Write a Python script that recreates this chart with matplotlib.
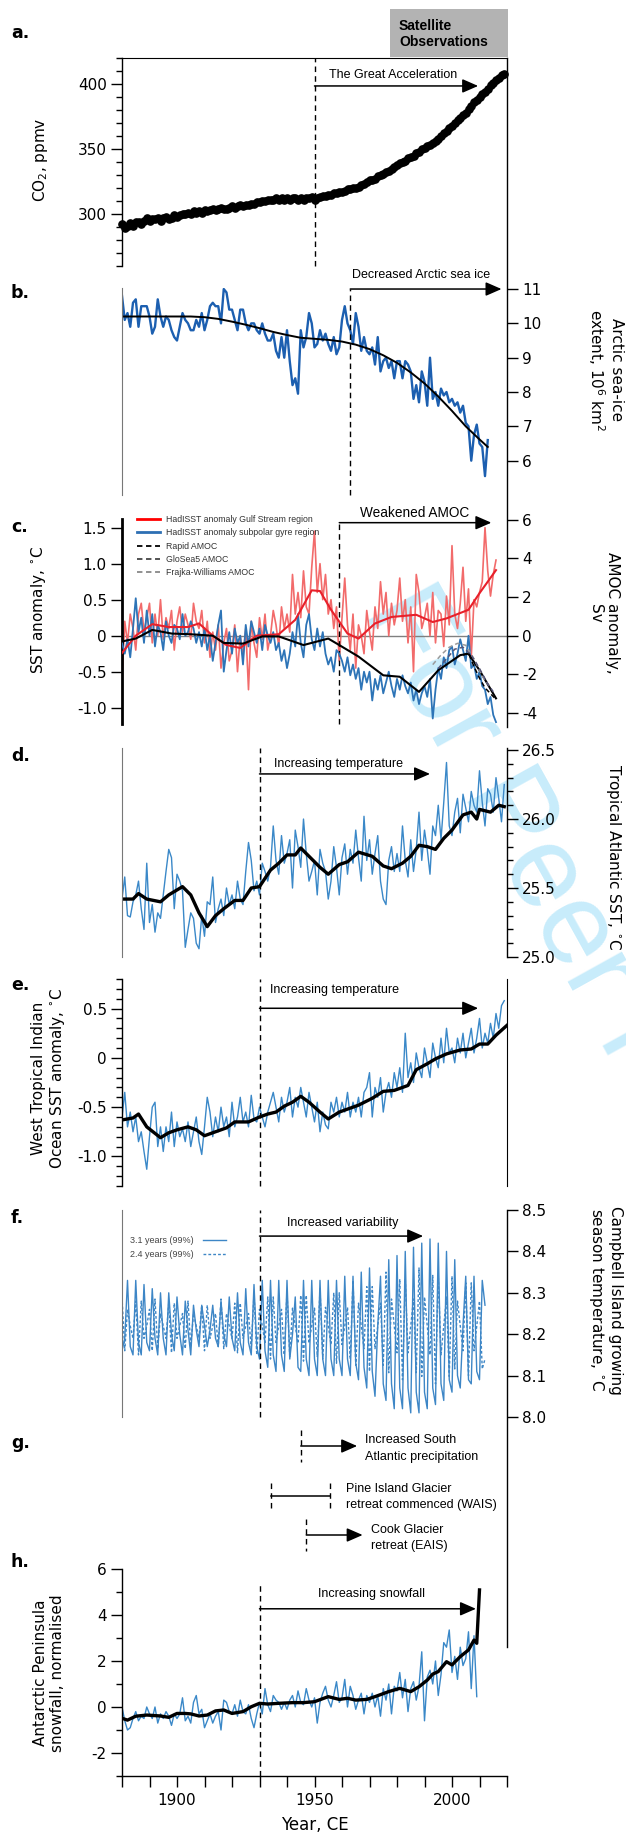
import numpy as np
import matplotlib
matplotlib.use("Agg")
import matplotlib.pyplot as plt
from matplotlib.lines import Line2D
from matplotlib.patches import Rectangle

plt.rcParams["axes.unicode_minus"] = False
plt.rcParams["font.family"] = ["DejaVu Sans"]

# ------------------------------------------------------------------ data
co2_start = 1880
co2 = [292, 289, 291, 293, 291, 294, 294, 292, 295, 297,
       295, 296, 296, 297, 295, 297, 298, 296, 297, 299,
       298, 299, 300, 300, 301, 300, 302, 301, 302, 301,
       303, 302, 303, 304, 303, 304, 305, 304, 304, 305,
       306, 305, 306, 307, 306, 307, 307, 308, 308, 309,
       309, 310, 310, 311, 311, 311, 312, 311, 312, 311,
       312, 311, 312, 312, 311, 312, 311, 312, 312, 313,
       311, 312, 313, 314, 314, 315, 315, 316, 316, 317,
       317, 318, 319, 319, 320, 320, 321, 322, 323, 325,
       326, 326, 327, 329, 330, 331, 332, 333, 335, 336,
       338, 339, 340, 341, 343, 344, 345, 347, 348, 350,
       351, 352, 353, 355, 356, 358, 360, 362, 364, 366,
       368, 370, 372, 374, 376, 378, 381, 383, 386, 388,
       390, 392, 394, 396, 399, 401, 403, 405, 407, 408]

seaice_start = 1880
seaice = [10.8, 10.1, 10.3, 9.9, 10.6, 10.7, 9.9, 10.5, 10.5, 10.5,
          10.2, 9.7, 9.9, 10.7, 10.2, 9.9, 10.2, 10.1, 9.8, 9.6,
          9.5, 9.9, 10.3, 10.1, 10.0, 9.8, 9.8, 10.1, 9.9, 10.3,
          9.8, 10.1, 10.5, 10.6, 10.5, 10.5, 10.0, 11.0, 10.9, 10.4,
          10.4, 10.1, 9.8, 10.4, 10.4, 10.0, 9.8, 10.0, 10.0, 9.8,
          9.7, 10.0, 9.7, 9.5, 9.5, 9.7, 9.2, 9.0, 9.6, 9.0,
          9.8, 8.9, 8.2, 8.4, 7.95, 9.8, 9.3, 9.6, 10.3, 10.0,
          9.3, 9.4, 9.8, 9.5, 9.7, 9.4, 9.2, 9.6, 9.1, 9.3,
          10.1, 10.5, 10.0, 9.8, 9.4, 10.3, 9.9, 9.2, 9.6, 9.2,
          9.1, 9.3, 8.8, 9.6, 8.6, 8.9, 9.0, 8.7, 8.9, 8.4,
          8.9, 8.9, 8.4, 8.9, 8.8, 8.6, 7.8, 8.2, 7.7, 8.6,
          8.3, 7.6, 9.0, 7.8, 8.0, 7.6, 8.1, 7.9, 8.0, 7.7,
          7.8, 7.6, 7.7, 7.4, 7.6, 7.1, 7.0, 6.0, 6.75, 7.05,
          6.5, 6.4, 5.55, 6.6]
seaice_fit_years = [1880, 1885, 1890, 1895, 1900, 1905, 1910, 1915, 1920, 1925,
                    1930, 1935, 1940, 1945, 1950, 1955, 1960, 1965, 1970, 1975,
                    1980, 1985, 1990, 1995, 2000, 2005, 2010, 2013]
seaice_fit = [10.2, 10.2, 10.2, 10.2, 10.2, 10.2, 10.18, 10.13, 10.05, 9.96,
              9.86, 9.75, 9.66, 9.58, 9.55, 9.52, 9.47, 9.38, 9.25, 9.07,
              8.85, 8.57, 8.25, 7.87, 7.45, 7.0, 6.62, 6.4]

gulf_start = 1880
gulf_sst = [-0.62, 0.2, -0.1, 0.3, 0.1, -0.2, 0.3, 0.45, 0.05, 0.25,
            0.45, -0.1, 0.3, 0.0, 0.5, -0.05, 0.25, 0.1, 0.35, -0.2,
            0.2, 0.4, 0.05, 0.3, 0.15, -0.05, 0.45, 0.2, 0.1, 0.35,
            -0.1, 0.2, -0.3, 0.05, -0.2, 0.15, -0.45, -0.1, 0.1, -0.35,
            -0.2, 0.15, -0.5, 0.0, -0.3, 0.1, -0.75, 0.2, -0.1, -0.3,
            0.25, -0.05, 0.3, -0.2, 0.0, 0.35, 0.15, -0.15, 0.4, 0.1,
            0.3, 0.05, 0.85, 0.3, 0.6, 0.25, 0.9, 0.4, 0.3, 0.95,
            1.45, 0.6, 1.0, 0.5, 0.85, 0.3, 0.5, 0.1, 0.4, -0.35,
            0.25, 0.8, 0.15, -0.2, 0.3, -0.45, 0.15, 0.0, -0.25, 0.35,
            0.05, -0.2, 0.4, 0.1, 0.75, 0.3, 0.6, 0.0, 0.45, 0.15,
            0.35, 0.8, 0.2, 0.5, -0.1, 0.4, -0.5, 0.85, 0.6, 0.1,
            0.25, 0.45, 0.0, 0.6, -0.1, 0.35, 0.3, -0.15, 0.55, 0.15,
            1.25, 0.3, 0.1, 0.45, 0.95, 0.2, 0.65, -0.3, 0.5, 0.4,
            0.6, 0.75, 1.5, 0.9, 0.55, 0.85, 1.05]
spg_start = 1880
spg_sst = [-0.1, -0.25, -0.05, -0.3, 0.1, 0.52, 0.05, 0.25, -0.1, 0.35,
           0.0, 0.3, -0.15, 0.15, 0.05, -0.2, 0.2, 0.0, -0.1, 0.15,
           0.1, -0.05, 0.3, 0.0, 0.05, 0.2, 0.1, -0.1, 0.05, -0.15,
           0.1, -0.2, 0.0, -0.35, -0.1, 0.15, 0.35, -0.5, -0.2, 0.05,
           -0.25, 0.1, -0.1, 0.0, -0.4, 0.15, -0.15, 0.2, 0.05, -0.1,
           0.1, -0.2, 0.15, 0.0, -0.1, 0.05, -0.2, -0.1, -0.35, -0.2,
           -0.45, -0.25, 0.05, -0.15, 0.3, -0.1, -0.3, 0.15, 0.3, -0.05,
           -0.2, 0.1, -0.15, 0.05, -0.25, -0.4, -0.3, -0.5, -0.2, -0.25,
           -0.35, -0.5, -0.3, -0.55, -0.4, -0.6, -0.45, -0.75, -0.5, -0.65,
           -0.5, -0.9, -0.6, -0.75, -0.55, -0.8, -0.65, -0.5, -0.7, -0.85,
           -0.6, -0.75, -0.55, -0.7, -0.8, -0.65, -0.9, -0.75, -0.95, -0.8,
           -0.7, -0.85, -0.6, -1.15, -0.75, -0.45, -0.6, -0.3, -0.45, -0.2,
           -0.15, -0.4, -0.25, -0.05, -0.2, -0.35, 0.0, -0.45, -0.4, -0.6,
           -0.5, -0.7, -0.75, -0.95, -0.85, -1.1, -1.2]
gulf_smooth_years = [1880, 1885, 1891, 1897, 1904, 1908, 1913, 1918, 1923, 1929,
                     1937, 1943, 1949, 1952, 1956, 1962, 1966, 1972, 1978, 1987,
                     1993, 1998, 2006, 2010, 2016]
gulf_smooth = [-0.24, 0.0, 0.16, 0.12, 0.12, 0.17, 0.0, -0.13, -0.17, 0.0,
               0.02, 0.22, 0.63, 0.62, 0.36, 0.03, -0.04, 0.17, 0.26, 0.29,
               0.19, 0.24, 0.36, 0.59, 0.91]
spg_smooth_years = [1880, 1885, 1891, 1898, 1905, 1913, 1917, 1924, 1931, 1937,
                    1946, 1955, 1959, 1966, 1975, 1981, 1988, 1995, 2003, 2006,
                    2010, 2016]
spg_smooth = [-0.08, -0.04, 0.08, 0.03, 0.02, 0.0, -0.10, -0.11, -0.01, -0.01,
              -0.13, -0.04, -0.13, -0.29, -0.55, -0.57, -0.78, -0.48, -0.27, -0.25,
              -0.48, -0.87]
rapid_years = [2004, 2006, 2008, 2010, 2012, 2014, 2016]
rapid_amoc = [-1.0, -0.9, -1.6, -2.2, -2.7, -3.0, -3.3]
glosea_years = [1995, 1998, 2001, 2004, 2007, 2010, 2013, 2015]
glosea_amoc = [-1.7, -1.2, -0.7, -0.6, -1.0, -1.7, -2.5, -2.9]
fw_years = [1993, 1996, 1999, 2002, 2005, 2008, 2011, 2014]
fw_amoc = [-1.5, -1.0, -0.6, -0.4, -0.5, -1.2, -2.1, -2.7]

tatl_start = 1880
tatl_sst = [25.42, 25.58, 25.30, 25.29, 25.40, 25.45, 25.55, 25.35, 25.20, 25.68,
            25.25, 25.38, 25.18, 25.32, 25.28, 25.45, 25.62, 25.78, 25.72, 25.35,
            25.60, 25.55, 25.48, 25.07, 25.20, 25.32, 25.28, 25.10, 25.06, 25.30,
            25.15, 25.40, 25.38, 25.58, 25.25, 25.35, 25.42, 25.30, 25.50, 25.38,
            25.45, 25.35, 25.55, 25.42, 25.38, 25.62, 25.83, 25.70, 25.48, 25.55,
            25.45, 25.68, 25.62, 25.55, 25.65, 25.95, 25.70, 25.60, 25.88, 25.68,
            25.75, 25.85, 25.50, 25.92, 25.80, 25.65, 26.00, 25.75, 25.55, 25.62,
            25.70, 25.45, 25.78, 25.68, 25.62, 25.42, 25.55, 25.80, 25.65, 25.45,
            25.72, 25.82, 25.60, 25.78, 25.68, 25.92, 25.72, 25.55, 26.02, 25.70,
            25.85, 25.60, 25.75, 25.88, 25.55, 25.42, 25.38, 25.70, 25.80, 25.62,
            25.75, 25.62, 25.95, 25.70, 25.58, 25.85, 25.62, 25.78, 26.05, 25.70,
            25.92, 25.78, 25.60, 25.95, 25.88, 26.10, 25.85, 26.12, 26.41, 25.95,
            25.88, 26.05, 26.15, 25.90, 26.18, 26.08, 25.98, 26.20, 26.10, 26.05,
            26.35, 26.12, 25.95, 26.22, 26.18, 26.05, 26.30, 26.15, 25.98, 26.25]
tatl_mean_years = [1880, 1884, 1886, 1889, 1894, 1897, 1902, 1905, 1908, 1911,
                   1914, 1917, 1921, 1924, 1927, 1930, 1934, 1937, 1940, 1943,
                   1945, 1948, 1952, 1955, 1959, 1962, 1966, 1971, 1975, 1978,
                   1982, 1985, 1988, 1991, 1994, 1997, 2000, 2004, 2007, 2009,
                   2010, 2014, 2017, 2019]
tatl_mean = [25.42, 25.42, 25.46, 25.42, 25.40, 25.45, 25.51, 25.45, 25.32, 25.22,
             25.30, 25.35, 25.41, 25.41, 25.50, 25.51, 25.63, 25.68, 25.74, 25.74,
             25.79, 25.73, 25.65, 25.60, 25.67, 25.69, 25.76, 25.73, 25.66, 25.64,
             25.68, 25.73, 25.81, 25.80, 25.78, 25.86, 25.92, 26.03, 26.05, 26.00,
             26.07, 26.05, 26.10, 26.09]

wtio_start = 1880
wtio_sst = [-0.60, -0.35, -0.70, -0.55, -0.75, -0.60, -0.85, -0.75, -0.95, -1.13,
            -0.80, -0.50, -0.45, -0.90, -0.70, -0.95, -0.70, -0.85, -0.55, -0.90,
            -0.65, -0.80, -0.72, -0.85, -0.65, -0.90, -0.75, -0.60, -0.85, -0.98,
            -0.70, -0.40, -0.55, -0.80, -0.60, -0.75, -0.50, -0.70, -0.60, -0.80,
            -0.45, -0.70, -0.60, -0.40, -0.65, -0.55, -0.70, -0.38, -0.62, -0.65,
            -0.50, -0.60, -0.70, -0.55, -0.45, -0.35, -0.50, -0.65, -0.40, -0.55,
            -0.45, -0.30, -0.60, -0.40, -0.50, -0.30, -0.45, -0.60, -0.35, -0.50,
            -0.65, -0.45, -0.75, -0.55, -0.68, -0.72, -0.45, -0.55, -0.40, -0.60,
            -0.45, -0.55, -0.35, -0.60, -0.45, -0.55, -0.40, -0.60, -0.35, -0.30,
            -0.15, -0.60, -0.30, -0.40, -0.20, -0.55, -0.35, -0.25, -0.40, -0.15,
            -0.30, -0.10, -0.35, 0.25, -0.20, -0.05, -0.25, 0.05, -0.10, -0.20,
            0.10, -0.05, -0.20, 0.15, 0.00, -0.10, 0.20, -0.05, 0.30, 0.05,
            0.10, -0.05, 0.20, 0.05, 0.25, 0.00, 0.15, 0.30, 0.05, 0.20,
            0.40, 0.10, 0.25, 0.15, 0.35, 0.20, 0.45, 0.30, 0.53, 0.58]
wtio_mean_years = [1880, 1884, 1886, 1889, 1894, 1897, 1900, 1904, 1907, 1910,
                   1914, 1918, 1921, 1926, 1930, 1933, 1936, 1939, 1942, 1945,
                   1948, 1952, 1955, 1959, 1963, 1966, 1971, 1975, 1979, 1984,
                   1987, 1991, 1994, 1998, 2003, 2007, 2010, 2013, 2016, 2020]
wtio_mean = [-0.63, -0.61, -0.57, -0.70, -0.81, -0.76, -0.73, -0.70, -0.73, -0.79,
             -0.75, -0.71, -0.65, -0.65, -0.60, -0.57, -0.55, -0.49, -0.45, -0.39,
             -0.45, -0.55, -0.62, -0.55, -0.51, -0.48, -0.41, -0.34, -0.33, -0.28,
             -0.12, -0.06, -0.01, 0.04, 0.08, 0.09, 0.14, 0.14, 0.23, 0.33]

campbell_start = 1880
campbell_31 = [8.16, 8.19, 8.33, 8.17, 8.15, 8.33, 8.18, 8.15, 8.32, 8.18,
               8.16, 8.31, 8.19, 8.15, 8.30, 8.19, 8.15, 8.30, 8.20, 8.16,
               8.29, 8.20, 8.15, 8.28, 8.21, 8.15, 8.27, 8.21, 8.17, 8.27,
               8.22, 8.17, 8.21, 8.27, 8.19, 8.17, 8.28, 8.20, 8.17, 8.29,
               8.19, 8.16, 8.30, 8.18, 8.15, 8.31, 8.18, 8.15, 8.32, 8.17,
               8.14, 8.33, 8.16, 8.12, 8.33, 8.15, 8.11, 8.33, 8.15, 8.11,
               8.33, 8.14, 8.20, 8.29, 8.12, 8.11, 8.33, 8.14, 8.10, 8.33,
               8.14, 8.10, 8.33, 8.14, 8.10, 8.33, 8.14, 8.10, 8.33, 8.14,
               8.10, 8.34, 8.14, 8.10, 8.34, 8.13, 8.09, 8.35, 8.12, 8.07,
               8.36, 8.11, 8.05, 8.22, 8.34, 8.08, 8.04, 8.38, 8.08, 8.02,
               8.39, 8.07, 8.02, 8.40, 8.07, 8.01, 8.41, 8.06, 8.01, 8.42,
               8.06, 8.02, 8.43, 8.07, 8.03, 8.42, 8.08, 8.04, 8.40, 8.09,
               8.06, 8.38, 8.10, 8.07, 8.22, 8.34, 8.09, 8.08, 8.34, 8.11,
               8.09, 8.33, 8.27]
campbell_24 = [8.29, 8.16, 8.26, 8.22, 8.19, 8.28, 8.15, 8.28, 8.19, 8.22, 8.26, 8.16,
               8.285, 8.165, 8.25, 8.22, 8.19, 8.275, 8.155, 8.275, 8.19, 8.22, 8.25, 8.165,
               8.28, 8.17, 8.25, 8.22, 8.19, 8.27, 8.16, 8.27, 8.19, 8.22, 8.25, 8.17,
               8.285, 8.165, 8.25, 8.22, 8.19, 8.275, 8.155, 8.275, 8.19, 8.22, 8.25, 8.165,
               8.30, 8.15, 8.26, 8.22, 8.18, 8.29, 8.14, 8.29, 8.18, 8.22, 8.26, 8.15,
               8.305, 8.146, 8.263, 8.22, 8.178, 8.294, 8.135, 8.294, 8.178, 8.22, 8.263, 8.146,
               8.31, 8.14, 8.265, 8.22, 8.175, 8.30, 8.13, 8.30, 8.175, 8.22, 8.265, 8.14,
               8.33, 8.125, 8.275, 8.22, 8.165, 8.315, 8.11, 8.315, 8.165, 8.22, 8.275, 8.125,
               8.35, 8.107, 8.285, 8.22, 8.155, 8.333, 8.09, 8.333, 8.155, 8.22, 8.285, 8.107,
               8.36, 8.098, 8.29, 8.22, 8.15, 8.342, 8.08, 8.342, 8.15, 8.22, 8.29, 8.098,
               8.34, 8.116, 8.28, 8.22, 8.16, 8.324, 8.10, 8.324, 8.16, 8.22, 8.28, 8.116,
               8.14]

event_labels = ["Increased South\nAtlantic precipitation",
                "Pine Island Glacier\nretreat commenced (WAIS)",
                "Cook Glacier\nretreat (EAIS)"]
event_start = [1945, 1934, 1947]
event_end = [1965.5, 1955.5, 1967.5]
event_open = [True, False, True]

snow_start = 1880
snow = [0.0, -0.6, -1.0, -0.9, -0.5, -0.2, -0.6, -0.4, -0.5, 0.0,
        -0.3, -0.5, 0.0, -0.7, -0.3, -0.5, -0.2, -0.4, -0.8, -0.3,
        -0.5, -0.3, 0.4, -0.6, -0.4, -0.7, 0.2, 0.5, -0.3, -0.1,
        -0.9, -0.6, -0.3, -0.7, -0.4, -0.2, -1.0, 0.3, 0.2, -0.2,
        -0.3, 0.1, -0.4, 0.3, -0.2, -0.3, 0.1, -0.5, -0.9, -0.3,
        0.2, -0.3, 0.8, 0.1, -0.2, 0.5, 0.3, 0.2, -0.1, 0.2,
        -0.1, 0.3, 0.5, 0.0, 0.7, 0.2, 0.1, 0.8, 0.3, 0.0,
        0.4, -0.7, 0.2, 0.6, 0.9, 0.3, 0.0, 0.5, 1.1, 0.2,
        0.4, 1.2, 0.0, 0.9, 0.5, -0.1, 0.3, 0.6, -0.3, 0.5,
        0.2, 0.6, 0.0, 0.5, -0.4, 0.8, 0.3, 1.0, -0.3, 0.9,
        0.7, 1.5, 0.4, 1.2, -0.2, 0.8, 1.1, 0.3, 0.9, 2.4,
        -0.6, 1.3, 1.6, 1.0, 2.0, 0.5, 1.4, 2.8, 2.6, 3.35,
        1.5, 2.2, 1.2, 2.6, 1.8, 2.1, 3.27, 0.8, 3.1, 0.45]
snow_mean_years = [1880, 1882, 1885, 1889, 1894, 1897, 1900, 1903, 1905, 1908,
                   1911, 1914, 1917, 1920, 1924, 1927, 1930, 1933, 1937, 1942,
                   1946, 1950, 1955, 1959, 1962, 1965, 1969, 1972, 1977, 1981,
                   1985, 1988, 1991, 1993, 1995, 1998, 2000, 2003, 2006, 2008,
                   2009, 2010]
snow_mean = [-0.49, -0.57, -0.40, -0.35, -0.39, -0.45, -0.28, -0.28, -0.30, -0.39,
             -0.35, -0.17, -0.13, -0.28, -0.20, 0.01, 0.16, 0.13, 0.16, 0.19,
             0.19, 0.23, 0.45, 0.33, 0.38, 0.30, 0.33, 0.45, 0.67, 0.81,
             0.67, 0.88, 1.17, 1.43, 1.54, 1.97, 1.83, 2.19, 2.48, 2.91,
             2.77, 5.09]

# ------------------------------------------------------------------ layout
W, H = 626, 1834
X0, X1 = 122, 507
fig = plt.figure(figsize=(W / 100, H / 100), dpi=100)

NARROW = ["Liberation Sans Narrow", "Liberation Sans", "DejaVu Sans"]
BLUE_B = "#1c5fb0"
BLUE = "#3a88c8"
DASH = (0, (4, 3))
ANN = 9.0


def fx(x):
    return x / W


def fy(y):
    return 1 - y / H


def make_ax(top, bottom, ylim):
    ax = fig.add_axes([fx(X0), fy(bottom), (X1 - X0) / W, (bottom - top) / H])
    ax.set_facecolor("none")
    ax.set_xlim(1880, 2020)
    ax.set_ylim(*ylim)
    for s in ax.spines.values():
        s.set_visible(False)
    ax.set_xticks([])
    ax.set_yticks([])
    return ax


def yticks(ax, side, major, labels, minor=None):
    ax.spines[side].set_visible(True)
    ax.spines[side].set_linewidth(1.0)
    if side == "left":
        ax.yaxis.set_ticks_position("left")
    else:
        ax.yaxis.set_ticks_position("right")
    ax.set_yticks(major)
    ax.set_yticklabels(labels)
    if minor is not None:
        ax.set_yticks(minor, minor=True)
    ax.tick_params(axis="y", which="major", direction="out", length=8,
                   width=1.0, labelsize=11, pad=3)
    ax.tick_params(axis="y", which="minor", direction="out", length=4.5, width=1.0)


def thin_left(ax):
    ax.spines["left"].set_visible(True)
    ax.spines["left"].set_color("#777777")
    ax.spines["left"].set_linewidth(0.8)


def arrow(ax, x0, x1, y, text=None, tx=None, ty=None, size=ANN):
    ax.annotate("", xy=(x1, y), xytext=(x0, y),
                arrowprops=dict(arrowstyle="-|>,head_length=0.8,head_width=0.35",
                                color="k", lw=1.1, shrinkA=0, shrinkB=0,
                                mutation_scale=12),
                annotation_clip=False)
    if text:
        ax.text(tx, ty, text, ha="left", va="center", fontsize=size,
                family=NARROW, clip_on=False)


def vdash(ax, x, y0, y1):
    ax.plot([x, x], [y0, y1], color="k", lw=1.0, ls=DASH, clip_on=False)


# right-hand continuous line through panels a-c
fig.add_artist(Line2D([fx(X1), fx(X1)], [fy(58), fy(727)], color="k", lw=1.0))
# right-hand line from panel f downwards
fig.add_artist(Line2D([fx(X1), fx(X1)], [fy(1210), fy(1647)], color="k", lw=1.0))

# watermark
fig.text(fx(362), fy(612), "For Peer Review", rotation=-61, rotation_mode="anchor",
         ha="left", va="baseline", fontsize=84, color="#c8ecfb",
         family=["Liberation Sans", "DejaVu Sans"], zorder=-10)

# ---------------------------------------------------------------- panel a
ax = make_ax(58, 266, (260, 420))
yticks(ax, "left", [300, 350, 400], ["300", "350", "400"], np.arange(260, 421, 10))
ax.spines["top"].set_visible(True)
yrs = np.arange(co2_start, co2_start + len(co2))
ax.plot(yrs, co2, "o", ms=5.2, color="k", mec="k", clip_on=False, zorder=3)
vdash(ax, 1950, 260, 420)
arrow(ax, 1950, 2009.5, 398.5, "The Great Acceleration", 1955.2, 407)
fig.text(fx(40), fy(160), "CO$_2$, ppmv", rotation=90, ha="center", va="center",
         fontsize=11)
fig.add_artist(Rectangle((fx(390), fy(57)), fx(118), 48 / H, facecolor="#b3b3b3",
                         edgecolor="none", transform=fig.transFigure))
fig.text(fx(399), fy(34), "Satellite\nObservations", ha="left", va="center",
         fontsize=10, fontweight="bold", family=NARROW, linespacing=1.25)

# ---------------------------------------------------------------- panel b
ax = make_ax(288, 495, (5.0, 11.03))
thin_left(ax)
yticks(ax, "right", [6, 7, 8, 9, 10, 11], ["6", "7", "8", "9", "10", "11"])
ax.spines["right"].set_visible(False)
yrs = np.arange(seaice_start, seaice_start + len(seaice))
ax.plot(yrs, seaice, color=BLUE_B, lw=1.7)
ax.plot(seaice_fit_years, seaice_fit, color="k", lw=1.4)
vdash(ax, 1963, 5.0, 11.0)
arrow(ax, 1963, 2018, 11.0, "Decreased Arctic sea ice", 1963.6, 11.41)
fig.text(fx(605), fy(370), "Arctic sea-ice\nextent, 10$^6$ km$^2$", rotation=270,
         ha="center", va="center", fontsize=11, linespacing=1.1)

# ---------------------------------------------------------------- panel c
ax = make_ax(519, 724, (-1.226, 1.62))
yticks(ax, "left", [-1.0, -0.5, 0, 0.5, 1.0, 1.5],
       ["-1.0", "-0.5", "0", "0.5", "1.0", "1.5"])
ax.spines["left"].set_linewidth(2.0)
ax.axhline(0, color="#808080", lw=1.0, zorder=1)
ax.plot(np.arange(gulf_start, gulf_start + len(gulf_sst)), gulf_sst,
        color="#f26b6b", lw=1.2, zorder=2)
ax.plot(np.arange(spg_start, spg_start + len(spg_sst)), spg_sst,
        color="#2d74b7", lw=1.3, zorder=3)
ax.plot(gulf_smooth_years, gulf_smooth, color="#e8202a", lw=1.5, zorder=4)
ax.plot(spg_smooth_years, spg_smooth, color="k", lw=1.5, zorder=4)
vdash(ax, 1959, -1.226, 1.569)
arrow(ax, 1959, 2014.3, 1.569, "Weakened AMOC", 1966.5, 1.71, size=9.8)
ax2 = ax.twinx()
ax2.set_facecolor("none")
for s in ax2.spines.values():
    s.set_visible(False)
ax2.set_ylim(-4.57, 6.03)
ax2.set_yticks([-4, -2, 0, 2, 4, 6])
ax2.set_yticklabels(["-4", "-2", "0", "2", "4", "6"])
ax2.tick_params(axis="y", which="major", direction="out", length=8, width=1.0,
                labelsize=11, pad=3)
ax2.plot(fw_years, fw_amoc, color="#9a9a9a", lw=1.1, ls=(0, (3, 2)))
ax2.plot(glosea_years, glosea_amoc, color="#555577", lw=1.1, ls=(0, (3, 2)))
ax2.plot(rapid_years, rapid_amoc, color="k", lw=1.1, ls=(0, (3, 2)))
handles = [Line2D([], [], color="#ff0000", lw=2.0),
           Line2D([], [], color="#2d6fb3", lw=2.0),
           Line2D([], [], color="k", lw=1.3, ls=(0, (3, 2))),
           Line2D([], [], color="#444444", lw=1.3, ls=(0, (3, 2))),
           Line2D([], [], color="#888888", lw=1.3, ls=(0, (3, 2)))]
labels = ["HadISST anomaly Gulf Stream region", "HadISST anomaly subpolar gyre region",
          "Rapid AMOC", "GloSea5 AMOC", "Frajka-Williams AMOC"]
leg = ax.legend(handles, labels, loc="upper left", bbox_to_anchor=(fx(137), fy(515)),
                bbox_transform=fig.transFigure, frameon=False, borderpad=0,
                borderaxespad=0, handlelength=2.6, handletextpad=0.7,
                labelspacing=0.5, prop=dict(family=NARROW, size=6.3))
for t in leg.get_texts():
    t.set_color("#333333")
fig.text(fx(38), fy(610), "SST anomaly, $^{\\circ}$C", rotation=90, ha="center",
         va="center", fontsize=11)
fig.text(fx(604), fy(613), "AMOC anomaly,\nSv", rotation=270, ha="center",
         va="center", fontsize=11, linespacing=1.1)

# ---------------------------------------------------------------- panel d
ax = make_ax(748, 957, (25.0, 26.515))
thin_left(ax)
yticks(ax, "right", [25.0, 25.5, 26.0, 26.5], ["25.0", "25.5", "26.0", "26.5"],
       np.arange(25.0, 26.51, 0.1))
ax.plot(np.arange(tatl_start, tatl_start + len(tatl_sst)), tatl_sst, color=BLUE, lw=1.0)
ax.plot(tatl_mean_years, tatl_mean, color="k", lw=2.4)
vdash(ax, 1930, 25.0, 26.515)
arrow(ax, 1930, 1992, 26.327, "Increasing temperature", 1935.3, 26.40)
fig.text(fx(614), fy(857), "Tropical Atlantic SST, $^{\\circ}$C", rotation=270,
         ha="center", va="center", fontsize=11)

# ---------------------------------------------------------------- panel e
ax = make_ax(979, 1186, (-1.3, 0.8))
yticks(ax, "left", [-1.0, -0.5, 0, 0.5], ["-1.0", "-0.5", "0", "0.5"],
       np.arange(-1.3, 0.81, 0.1))
ax.spines["right"].set_visible(True)
ax.plot(np.arange(wtio_start, wtio_start + len(wtio_sst)), wtio_sst, color=BLUE, lw=1.0)
ax.plot(wtio_mean_years, wtio_mean, color="k", lw=2.4)
vdash(ax, 1930, -1.3, 0.8)
arrow(ax, 1930, 2009.5, 0.503, "Increasing temperature", 1933.8, 0.688)
fig.text(fx(49), fy(1078), "West Tropical Indian\nOcean SST anomaly, $^{\\circ}$C",
         rotation=90, ha="center", va="center", fontsize=11, linespacing=1.1)

# ---------------------------------------------------------------- panel f
ax = make_ax(1210, 1417, (8.0, 8.5))
thin_left(ax)
yticks(ax, "right", [8.0, 8.1, 8.2, 8.3, 8.4, 8.5],
       ["8.0", "8.1", "8.2", "8.3", "8.4", "8.5"])
ax.spines["right"].set_visible(False)
ax.plot(np.arange(campbell_start, campbell_start + len(campbell_31)), campbell_31,
        color="#3d86c6", lw=1.0)
ax.plot(np.arange(campbell_start, campbell_start + len(campbell_24)), campbell_24,
        color="#3d86c6", lw=1.0, ls=(0, (2, 1.5)))
vdash(ax, 1930, 8.0, 8.5)
arrow(ax, 1930, 1989.5, 8.437, "Increased variability", 1940, 8.469)
h1 = Line2D([], [], color="#3d86c6", lw=1.0)
h2 = Line2D([], [], color="#3d86c6", lw=1.0, ls=(0, (2, 1.5)))
leg = ax.legend([h1, h2], ["3.1 years (99%)", "2.4 years (99%)"], loc="upper left",
                bbox_to_anchor=(fx(130), fy(1236)), bbox_transform=fig.transFigure,
                frameon=False, borderpad=0, borderaxespad=0, markerfirst=False,
                handlelength=2.6, handletextpad=1.0, labelspacing=0.55,
                prop=dict(family=NARROW, size=6.5))
for t in leg.get_texts():
    t.set_color("#444444")
fig.text(fx(605), fy(1300), "Campbell Island growing\nseason temperature, $^{\\circ}$C",
         rotation=270, ha="center", va="center", fontsize=11, linespacing=1.1)

# ---------------------------------------------------------------- panel g
axg = make_ax(1420, 1560, (1560, 1420))
rows = [(1430, 1462, 1446, 1448.5), (1483, 1509, 1496, 1497), (1519, 1551, 1535, 1538)]
for (lab, s, e, op, (r0, r1, ra, rt)) in zip(event_labels, event_start, event_end,
                                             event_open, rows):
    axg.plot([s, s], [r0, r1], color="k", lw=1.0, ls=DASH)
    if op:
        axg.annotate("", xy=(e, ra), xytext=(s, ra),
                     arrowprops=dict(arrowstyle="-|>,head_length=0.8,head_width=0.35",
                                     color="k", lw=1.1, shrinkA=0, shrinkB=0,
                                     mutation_scale=12))
        tx = e + 3
    else:
        axg.plot([s, e], [ra, ra], color="k", lw=1.1)
        axg.plot([e, e], [r0, r1], color="k", lw=1.0, ls=DASH)
        tx = e + 6
    axg.text(tx, rt, lab, ha="left", va="center", fontsize=ANN, family=NARROW,
             linespacing=1.45)

# ---------------------------------------------------------------- panel h
ax = make_ax(1569, 1776, (-3, 6))
yticks(ax, "left", [-2, 0, 2, 4, 6], ["-2", "0", "2", "4", "6"], np.arange(-3, 7, 1))
ax.spines["bottom"].set_visible(True)
ax.spines["bottom"].set_linewidth(1.0)
ax.set_xticks([1900, 1950, 2000])
ax.set_xticklabels(["1900", "1950", "2000"])
ax.set_xticks(np.arange(1880, 2021, 10), minor=True)
ax.tick_params(axis="x", which="both", direction="out", length=8, width=1.0,
               labelsize=11, pad=4)
ax.plot(np.arange(snow_start, snow_start + len(snow)), snow, color=BLUE, lw=1.0)
ax.plot(snow_mean_years, snow_mean, color="k", lw=2.4)
vdash(ax, 1930, -3, 5.43)
arrow(ax, 1930, 2008.7, 4.27, "Increasing snowfall", 1951.3, 4.91)
fig.text(fx(49), fy(1673), "Antarctic Peninsula\nsnowfall, normalised", rotation=90,
         ha="center", va="center", fontsize=11, linespacing=1.1)
fig.text(fx(315), fy(1825), "Year, CE", ha="center", va="center", fontsize=12)

# ---------------------------------------------------------------- panel letters
for lab, y in zip("abcdefgh", [33, 293, 527, 756, 985, 1218, 1443, 1562]):
    fig.text(fx(11), fy(y), lab + ".", ha="left", va="center", fontsize=12.5,
             fontweight="bold")

fig.savefig("out.png", dpi=100)
